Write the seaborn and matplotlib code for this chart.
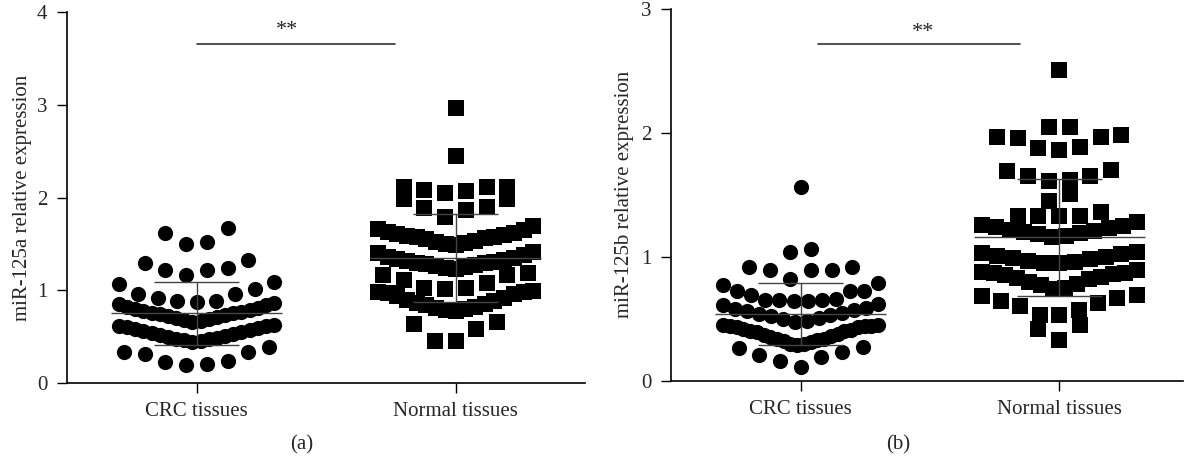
import numpy as np
import pandas as pd
import seaborn as sns
import matplotlib
matplotlib.use('Agg')
import matplotlib.pyplot as plt

sns.set_style('ticks')
plt.rcParams['font.family'] = ['Liberation Serif', 'DejaVu Serif']

groups = ['CRC tissues', 'Normal tissues']

# ---------- values ----------
crc_125a = [0.33, 0.31, 0.23, 0.19, 0.21, 0.24, 0.33, 0.39,
            0.44, 0.45, 0.46, 0.47, 0.48, 0.49, 0.50, 0.51, 0.52, 0.53,
            0.54, 0.55, 0.56, 0.57, 0.58, 0.59, 0.60, 0.61, 0.62, 0.63,
            0.66, 0.67, 0.68, 0.69, 0.70, 0.71, 0.72, 0.73, 0.74, 0.75,
            0.76, 0.77, 0.78, 0.79, 0.80, 0.81, 0.82, 0.84, 0.85, 0.86,
            1.07, 0.96, 0.92, 0.89, 0.87, 0.89, 0.96, 1.01, 1.09,
            1.30, 1.22, 1.17, 1.22, 1.24, 1.33,
            1.67, 1.52, 1.50, 1.62]

normal_125a = [0.66, 0.58, 0.45, 0.45, 0.64,
               0.78, 0.79, 0.80, 0.81, 0.82, 0.84, 0.85, 0.86, 0.88,
               0.90, 0.92, 0.94, 0.96, 0.97, 0.98, 0.98, 0.99,
               1.17, 1.11, 1.03, 1.01, 1.03, 1.08, 1.16, 1.19,
               1.23, 1.24, 1.25, 1.26, 1.27, 1.28, 1.29, 1.30, 1.31,
               1.32, 1.33, 1.34, 1.35, 1.36, 1.38, 1.40, 1.41,
               1.49, 1.50, 1.51, 1.52, 1.53, 1.55, 1.56, 1.57, 1.58,
               1.59, 1.60, 1.61, 1.62, 1.63, 1.65, 1.66, 1.69,
               1.99, 1.90, 1.87, 1.79, 1.89, 1.99,
               2.11, 2.07, 2.05, 2.08, 2.11, 2.11,
               2.45, 2.97]

crc_125b = [0.27, 0.23, 0.19, 0.11, 0.16, 0.21, 0.26,
            0.29, 0.30, 0.30, 0.31, 0.32, 0.33, 0.34, 0.34, 0.35, 0.36,
            0.37, 0.38, 0.39, 0.40, 0.40, 0.41, 0.42, 0.43, 0.43, 0.44,
            0.44, 0.44, 0.45, 0.45,
            0.47, 0.48, 0.50, 0.51, 0.52, 0.53, 0.54, 0.55, 0.56, 0.57,
            0.58, 0.59, 0.61, 0.62,
            0.79, 0.72, 0.72, 0.66, 0.65, 0.64, 0.64, 0.65, 0.65, 0.69,
            0.72, 0.77,
            0.92, 0.89, 0.82, 0.89, 0.89, 0.92,
            1.06, 1.04,
            1.56]

normal_125b = [0.45, 0.33, 0.42,
               0.69, 0.64, 0.60, 0.53, 0.53, 0.57, 0.63, 0.67, 0.68,
               0.74, 0.75, 0.77, 0.78, 0.80, 0.82, 0.83, 0.84, 0.85,
               0.86, 0.87, 0.87, 0.88, 0.89,
               0.95, 0.95, 0.96, 0.97, 0.98, 0.99, 1.00, 1.01, 1.02,
               1.03, 1.04,
               1.16, 1.17, 1.18, 1.19, 1.20, 1.21, 1.22, 1.23, 1.24,
               1.25, 1.26, 1.28,
               1.33, 1.36, 1.33, 1.33, 1.33,
               1.51, 1.45,
               1.65, 1.62, 1.70, 1.69, 1.61, 1.65,
               1.98, 1.96, 1.89, 1.86, 1.88, 1.97, 1.97,
               2.05, 2.05,
               2.51]

# row boundaries for the Prism-like column scatter layout
rows_crc_a = [0, 0.41, 0.645, 0.865, 1.12, 1.4, 2.0]
rows_normal_a = [0, 0.7, 1.005, 1.21, 1.45, 1.75, 2.02, 2.3, 2.7, 3.2]
rows_crc_b = [0, 0.28, 0.465, 0.63, 0.805, 0.98, 1.3, 2.0]
rows_normal_b = [0, 0.5, 0.71, 0.92, 1.1, 1.305, 1.42, 1.56, 1.78, 2.02, 2.3, 3.0]


def column_scatter(values, edges, centre, step=0.08, half=0.30):
    # spread each row of values sideways, lowest value in the middle
    vals = np.asarray(values, float)
    xs = np.full(len(vals), float(centre))
    idx = np.digitize(vals, edges)
    for b in np.unique(idx):
        members = np.where(idx == b)[0]
        members = members[np.argsort(vals[members], kind='stable')]
        n = len(members)
        if n == 1:
            continue
        sp = min(step, 2 * half / (n - 1))
        slots = (np.arange(n) - (n - 1) / 2) * sp
        order = np.lexsort((slots, np.round(np.abs(slots), 6)))
        xs[members] = centre + slots[order]
    return pd.DataFrame({'x': xs, 'y': vals})


def panel(ax, crc, crc_rows, normal, normal_rows, ylabel, ymax, sig_y, sig_x, star):
    d1 = column_scatter(crc, crc_rows, 0)
    d2 = column_scatter(normal, normal_rows, 1)
    sns.scatterplot(data=d1, x='x', y='y', marker='o', color='black',
                    s=120, linewidth=0, ax=ax, legend=False, zorder=2)
    sns.scatterplot(data=d2, x='x', y='y', marker='s', color='black',
                    s=120, linewidth=0, ax=ax, legend=False, zorder=2)
    for pos, vals in enumerate([crc, normal]):
        m = np.mean(vals)
        sd = np.std(vals, ddof=1)
        ax.hlines(m, pos - 0.33, pos + 0.33, color='#444444', lw=1, zorder=3)
        ax.hlines([m - sd, m + sd], pos - 0.165, pos + 0.165, color='#444444', lw=1, zorder=3)
        ax.vlines(pos, m - sd, m + sd, color='#444444', lw=1, zorder=3)
    ax.plot(sig_x, [sig_y, sig_y], color='#333333', lw=1.2)
    ax.text(star[0], star[1], '**', ha='center', va='baseline', fontsize=16)
    ax.set_ylim(0, ymax)
    ax.set_yticks(range(ymax + 1))
    ax.set_xticks([0, 1], groups)
    ax.set_xlabel('')
    ax.set_ylabel(ylabel, fontsize=15)
    ax.tick_params(length=7, width=1, pad=7, labelsize=15, color='black')
    for sp in ['left', 'bottom']:
        ax.spines[sp].set_linewidth(1.2)
        ax.spines[sp].set_color('black')
    sns.despine(ax=ax)


fig = plt.figure(figsize=(11.84, 4.59), dpi=100)
ax_a = fig.add_axes([0.0566, 0.1656, 0.4375, 0.8076])
ax_b = fig.add_axes([0.567, 0.1706, 0.4324, 0.8098])

panel(ax_a, crc_125a, rows_crc_a, normal_125a, rows_normal_a,
      'miR-125a relative expression', 4, 3.66, [0.0, 0.765], (0.351, 3.75))
ax_a.set_xlim(-0.5, 1.5)
ax_a.yaxis.set_label_coords(-0.068, 0.5)

panel(ax_b, crc_125b, rows_crc_b, normal_125b, rows_normal_b,
      'miR-125b relative expression', 3, 2.72, [0.066, 0.85], (0.475, 2.77))
ax_b.set_xlim(-0.5, 1.48)
ax_b.yaxis.set_label_coords(-0.072, 0.5)

fig.text(0.255, 0.03, '(a)', ha='center', va='center', fontsize=15)
fig.text(0.759, 0.03, '(b)', ha='center', va='center', fontsize=15)

fig.savefig('out.png', dpi=100)
